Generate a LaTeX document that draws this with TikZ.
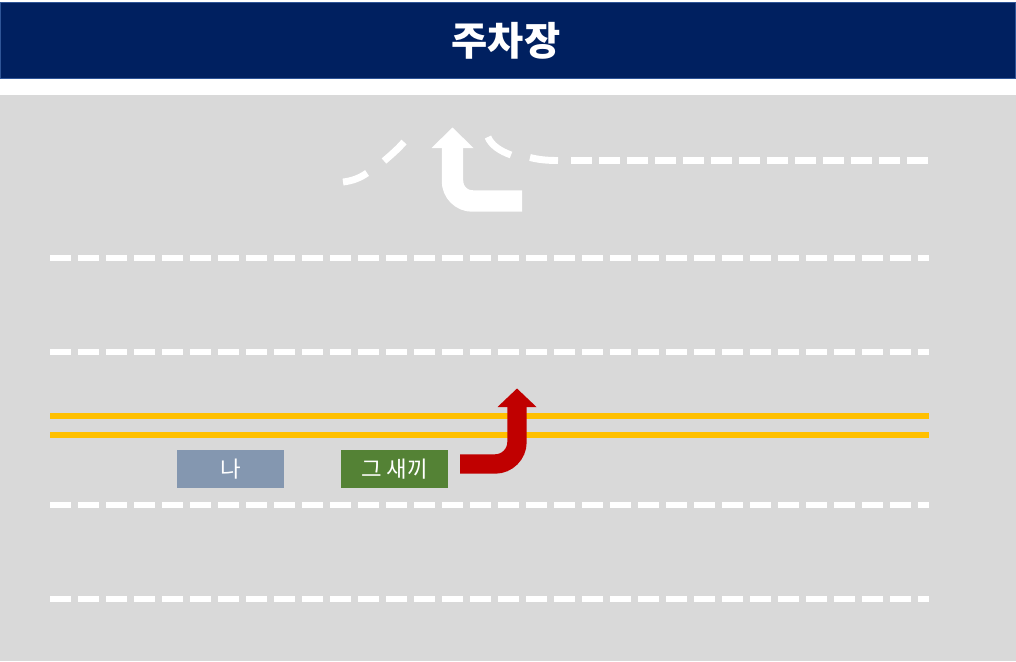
\documentclass[tikz,border=0pt]{standalone}
\usepackage{fontspec}
\newfontfamily\krfont{Noto Sans CJK KR}
\definecolor{navy}{HTML}{002060}
\definecolor{navyedge}{HTML}{2F5597}
\definecolor{road}{HTML}{D9D9D9}
\definecolor{lanegold}{HTML}{FFC000}
\definecolor{carred}{HTML}{C00000}
\definecolor{cargreen}{HTML}{548235}
\definecolor{carblue}{HTML}{8497B0}
\begin{document}
\begin{tikzpicture}[x=0.75pt,y=-0.75pt,
  lanedash/.style={white,line width=4.9pt,dash pattern=on 16.1pt off 4.9pt},
  markpiece/.style={white,line width=5.2pt},
  centerline/.style={lanegold,line width=4.5pt},
  carbox/.style={rectangle,inner sep=0pt,minimum width=80.25pt,minimum height=28.5pt,text=white,font=\krfont\fontsize{16.8}{20}\selectfont},
]
\useasboundingbox (0,0) rectangle (1016,661);
% header
\fill[white] (0,0) rectangle (1016,661);
\node[draw=navyedge,fill=navy,line width=0.75pt,minimum width=761pt,minimum height=57pt,inner sep=0pt] (header) at (508,40) {};
\node[text=white,font=\krfont\bfseries\fontsize{29.5}{34}\selectfont] (title) at (506,41) {주차장};
% road
\fill[road] (0,95) rectangle (1016,661);
% lane dashed lines
\coordinate (l1a) at (50,258); \coordinate (l1b) at (929,258);
\coordinate (l2a) at (50,352); \coordinate (l2b) at (929,352);
\coordinate (l3a) at (50,505); \coordinate (l3b) at (929,505);
\coordinate (l4a) at (50,599); \coordinate (l4b) at (929,599);
\draw[lanedash] (l1a) -- (l1b);
\draw[lanedash] (l2a) -- (l2b);
\draw[lanedash] (l3a) -- (l3b);
\draw[lanedash] (l4a) -- (l4b);
% yellow centre lines
\coordinate (y1a) at (50,416); \coordinate (y1b) at (929,416);
\coordinate (y2a) at (50,434.5); \coordinate (y2b) at (929,434.5);
\draw[centerline] (y1a) -- (y1b);
\draw[centerline] (y2a) -- (y2b);
% top entrance curve
\coordinate (c1a) at (343,182); \coordinate (c1b) at (367,173);
\coordinate (c2a) at (384,161); \coordinate (c2b) at (404,142);
\coordinate (c3a) at (488,137); \coordinate (c3b) at (511,155);
\coordinate (c4a) at (530,157.5); \coordinate (c4b) at (558,160.5);
\coordinate (t1a) at (571,160.5); \coordinate (t1b) at (929,160.5);
\draw[markpiece] (c1a) .. controls (352,181) and (360,178) .. (c1b);
\draw[markpiece] (c2a) .. controls (391,155) and (398,149) .. (c2b);
\draw[markpiece] (c3a) .. controls (491,145) and (500,151) .. (c3b);
\draw[markpiece] (c4a) .. controls (538,159.5) and (546,160.5) .. (c4b);
\draw[lanedash] (t1a) -- (t1b);
% white turn arrow
\coordinate (wa0) at (522,201);
\coordinate (wa1) at (452.5,147);
\draw[white,line width=16.1pt,rounded corners=15pt] (wa0) -| (wa1);
\fill[white] (431.5,148) -- (473.5,148) -- (452.5,127.5) -- cycle;
% cars
\node[carbox,fill=carblue] (na) at (230.5,469) {나};
\node[carbox,fill=cargreen] (car) at (394.5,469) {그 새끼};
% red U-turn arrow
\coordinate (ra0) at (460,464);
\coordinate (ra1) at (517,406);
\draw[carred,line width=14.5pt,rounded corners=16.5pt] (ra0) -| (ra1);
\fill[carred] (497.5,407) -- (536.5,407) -- (517,388.5) -- cycle;
\end{tikzpicture}
\end{document}
